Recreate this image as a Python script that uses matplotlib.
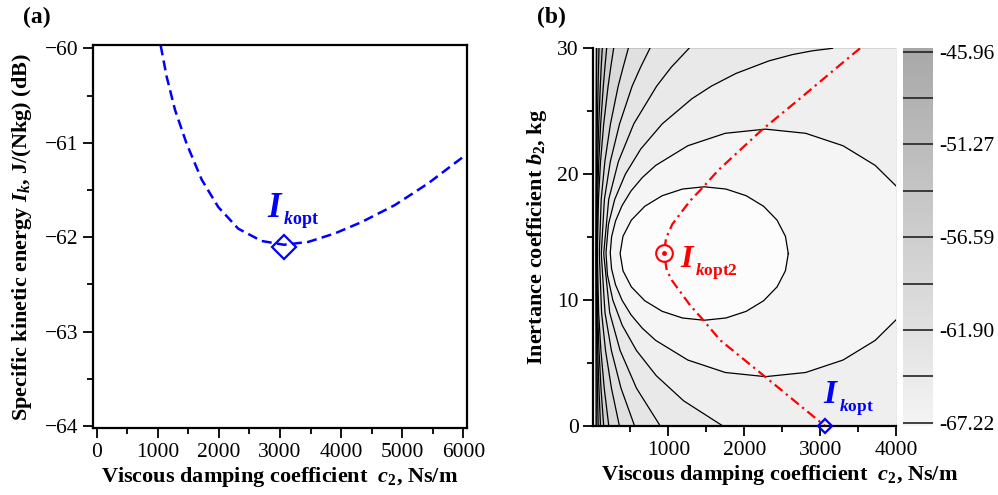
import matplotlib.pyplot as plt
import numpy as np
from matplotlib.ticker import MultipleLocator
from matplotlib.colors import LinearSegmentedColormap, Normalize
from matplotlib.cm import ScalarMappable

plt.rcParams['font.family'] = 'Liberation Serif'
plt.rcParams['mathtext.fontset'] = 'custom'
plt.rcParams['mathtext.rm'] = 'Liberation Serif:bold'
plt.rcParams['mathtext.it'] = 'Liberation Serif:italic:bold'
plt.rcParams['mathtext.bf'] = 'Liberation Serif:bold'

# (a) specific kinetic energy against c2 (b2 = 0)
c2_a = [1047, 1145, 1281, 1472, 1718, 1989, 2317, 2699, 3064, 3462, 3898, 4335, 4880, 5425, 5997]
ik_a = [-59.97, -60.30, -60.65, -61.01, -61.39, -61.68, -61.91, -62.04, -62.08,
        -62.05, -61.96, -61.84, -61.66, -61.43, -61.15]
opt_c2, opt_ik = 3070, -62.10

# (b) contour map over c2 and b2
field_c2_lo, field_c2_hi = 35, 4000
field_b2 = [0, 30]

# open contours on the left, one c2 list per line, sampled at b2_left
b2_left = [30, 28.5, 27, 24, 21, 18, 13.7, 9, 6, 3, 0]
left_lines = [
    [56, 54, 53, 51, 49, 48, 47, 48, 49, 50, 51],
    [87, 80, 75, 65, 57, 53, 50, 53, 58, 66, 76],
    [130, 116, 104, 84, 68, 58, 53, 59, 70, 86, 107],
    [188, 165, 144, 109, 84, 67, 58, 69, 87, 113, 149],
    [280, 242, 207, 149, 107, 80, 65, 82, 112, 156, 216],
    [473, 405, 340, 238, 164, 116, 91, 121, 173, 251, 356],
    [758, 635, 524, 358, 236, 158, 117, 166, 250, 377, 556],
    [1273, 1039, 847, 545, 342, 215, 149, 228, 365, 581, 894],
]

# third contour (left branch)
c3_b2 = [30, 29.8, 29.5, 29, 28, 27, 26, 24, 22, 20, 18, 16, 13.75, 12, 10, 8, 6, 4, 2, 0]
c3_c2 = [3164, 2896, 2635, 2325, 1890, 1569, 1312, 920, 637, 434, 294, 211, 179,
         198, 269, 393, 580, 841, 1202, 1719]

# second contour, open at c2 = 4000
c2_c2 = [4000, 3726, 3302, 2809, 2280, 1751, 1257, 834, 657, 509, 391, 305, 253, 235,
         253, 305, 391, 509, 657, 834, 1257, 1751, 2280, 2809, 3302, 3726, 4000]
c2_b2 = [19.07, 20.70, 22.26, 23.25, 23.58, 23.25, 22.26, 20.70, 19.73, 18.67, 17.51,
         16.29, 15.03, 13.75, 12.47, 11.21, 9.99, 8.83, 7.77, 6.80, 5.24, 4.25, 3.92,
         4.25, 5.24, 6.80, 8.43]

# innermost closed contour
c1_c2 = [2581, 2543, 2433, 2256, 2027, 1760, 1473, 1186, 919, 690, 513, 403, 365,
         403, 513, 690, 919, 1186, 1473, 1760, 2027, 2256, 2433, 2543]
c1_b2 = [13.7, 15.07, 16.35, 17.45, 18.29, 18.82, 19.0, 18.82, 18.29, 17.45, 16.35, 15.07,
         13.7, 12.33, 11.05, 9.95, 9.11, 8.58, 8.4, 8.58, 9.11, 9.95, 11.05, 12.33]

# locus of optimum c2 for each b2
red_c2 = [3526, 3306, 2713, 2229, 1659, 1461, 1286, 1053, 970, 943, 979, 1045, 1286,
          1461, 1681, 2274, 2647, 3065]
red_b2 = [30.0, 28.9, 25.9, 23.5, 20.32, 18.99, 17.88, 16.03, 14.9, 13.76, 12.38, 11.59,
          9.6, 8.41, 6.83, 3.92, 2.07, 0]
opt2_c2, opt2_b2 = 943, 13.76
opt_b_c2, opt_b_b2 = 3065, 0

levels = [-67.22, -64.56, -61.90, -59.25, -56.59, -53.93, -51.27, -48.62, -45.96]
cbar_lo, cbar_hi = -67.41, -45.77

band_colors = ['#a9a9a9', '#b4b4b4', '#bebebe', '#c8c8c8', '#d1d1d1', '#d9d9d9',
               '#e0e0e0', '#e5e5e5', '#e9e9e9', '#efefef', '#f5f5f5', '#fcfcfc']

tick_fs = 15.5
label_fs = 16


def opt_label(ax, x, y, sub, color, size, sub_size, dx, dy):
    # big bold-italic I with a smaller "k opt" subscript beside it
    ax.text(x, y, r'$I$', color=color, fontsize=size)
    ax.annotate(sub, (x, y), xytext=(dx, -dy), textcoords='offset points',
                color=color, fontsize=sub_size)


fig = plt.figure(figsize=(9.98, 4.95), dpi=100)

# ---------------- panel (a)
ax1 = fig.add_axes([0.0935, 0.1347, 0.3741, 0.7743])
ax1.plot(c2_a, ik_a, color='blue', lw=1.8, ls=(0, (4, 2.1)))
ax1.plot(opt_c2, opt_ik, 'D', mfc='none', mec='blue', ms=12.5, mew=1.6)
opt_label(ax1, 2781, -61.784, r'$k\mathrm{opt}$', 'blue', 25, 13, 11.5, 5.5)
ax1.set_xlim(-55.6, 6055.6)
ax1.set_ylim(-64.024, -59.965)
ax1.set_xticks(range(0, 7000, 1000))
ax1.set_yticks([-64, -63, -62, -61, -60])
ax1.xaxis.set_minor_locator(MultipleLocator(500))
ax1.yaxis.set_minor_locator(MultipleLocator(0.5))
ax1.tick_params(which='major', direction='out', length=7, width=1.3, labelsize=tick_fs)
ax1.tick_params(which='minor', direction='out', length=4.5, width=1.3)
for s in ax1.spines.values():
    s.set_linewidth(1.6)
ax1.set_xlabel(r'Viscous damping coefficient  $c_2$, Ns/m', fontsize=label_fs,
               fontweight='bold', labelpad=2)
ax1.set_ylabel(r'Specific kinetic energy $I_k$, J/(Nkg) (dB)', fontsize=label_fs,
               fontweight='bold', labelpad=8)

# ---------------- panel (b)
ax2 = fig.add_axes([0.5945, 0.1394, 0.3033, 0.7630])
ax2.fill_betweenx(field_b2, field_c2_lo, field_c2_hi, color=band_colors[0], lw=0)
for xs, col in zip(left_lines, band_colors[1:9]):
    ax2.fill_betweenx(b2_left, xs, field_c2_hi, color=col, lw=0)
ax2.fill_betweenx(c3_b2, c3_c2, field_c2_hi, color=band_colors[9], lw=0)
ax2.fill(c2_c2, c2_b2, color=band_colors[10], lw=0)
ax2.fill(c1_c2, c1_b2, color=band_colors[11], lw=0)

for xs in left_lines:
    ax2.plot(xs, b2_left, color='black', lw=0.9)
ax2.plot(c3_c2, c3_b2, color='black', lw=0.9)
ax2.plot(c2_c2, c2_b2, color='black', lw=0.9)
ax2.plot(c1_c2 + c1_c2[:1], c1_b2 + c1_b2[:1], color='black', lw=0.9)

ax2.plot(red_c2, red_b2, color='red', lw=1.6, ls=(0, (4.5, 2, 1, 2)))
ax2.plot(opt2_c2, opt2_b2, 'o', mfc='#fcfcfc', mec='red', ms=12, mew=1.5)
ax2.plot(opt2_c2, opt2_b2, 'o', color='red', ms=2.5)
ax2.plot(opt_b_c2, opt_b_b2, 'D', mfc='none', mec='blue', ms=7.5, mew=1.6, clip_on=False,
         zorder=5)
opt_label(ax2, 1154, 12.64, r'$k\mathrm{opt2}$', 'red', 23, 12.5, 11, 6)
opt_label(ax2, 3042, 1.8, r'$k\mathrm{opt}$', 'blue', 24, 12.5, 11, 5.5)

ax2.set_xlim(12, 4000)
ax2.set_ylim(0, 30)
ax2.set_xticks([1000, 2000, 3000, 4000])
ax2.set_yticks([0, 10, 20, 30])
ax2.xaxis.set_minor_locator(MultipleLocator(500))
ax2.yaxis.set_minor_locator(MultipleLocator(5))
ax2.tick_params(which='major', direction='out', length=7, width=1.3, labelsize=tick_fs)
ax2.tick_params(which='minor', direction='out', length=4.5, width=1.3)
ax2.spines['top'].set_visible(False)
ax2.spines['right'].set_visible(False)
ax2.spines['left'].set_linewidth(1.6)
ax2.spines['bottom'].set_linewidth(1.6)
ax2.set_xlabel(r'Viscous damping coefficient  $c_2$, Ns/m', fontsize=label_fs,
               fontweight='bold')
ax2.xaxis.set_label_coords(0.617, -0.098)
ax2.set_ylabel(r'Inertance coefficient $b_2$, kg', fontsize=label_fs,
               fontweight='bold', labelpad=6)

# colour bar
cax = fig.add_axes([0.9051, 0.1394, 0.0301, 0.7630])
bar_cmap = LinearSegmentedColormap.from_list('bar', ['#f4f4f4', '#a8a8a8'])
cb = fig.colorbar(ScalarMappable(Normalize(cbar_lo, cbar_hi), bar_cmap), cax=cax)
cb.outline.set_visible(False)
cb.set_ticks(levels[::2])
cb.set_ticklabels([f'{v:.2f}' for v in levels[::2]])
cax.tick_params(length=0, labelsize=tick_fs, pad=4)
for v in levels:
    cax.axhline(v, color='#222222', lw=1.2)

fig.text(0.023, 0.986, '(a)', fontsize=17, fontweight='bold', va='top')
fig.text(0.538, 0.986, '(b)', fontsize=17, fontweight='bold', va='top')

fig.savefig('out.png', dpi=100)
